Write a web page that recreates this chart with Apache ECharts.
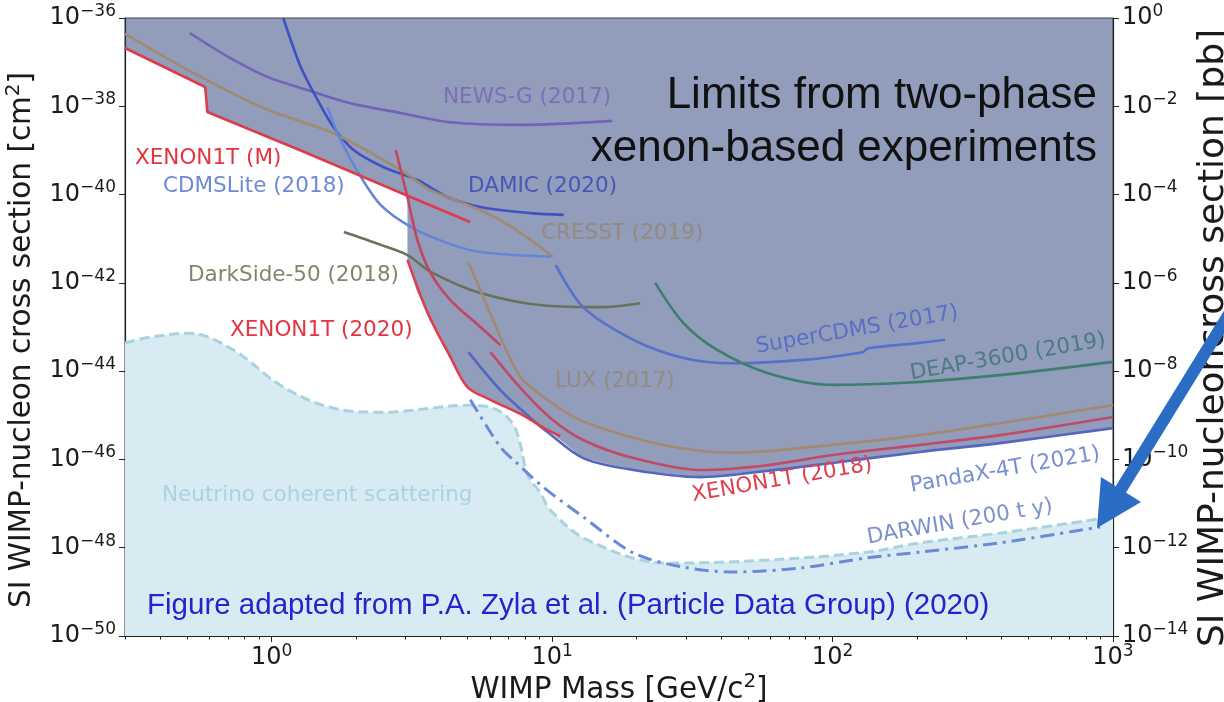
<!DOCTYPE html>
<html>
<head>
<meta charset="utf-8">
<script src="https://cdn.jsdelivr.net/npm/echarts@6/dist/echarts.min.js"></script>
<style>
  html, body { margin: 0; padding: 0; background: #fff; }
  #chart { width: 1224px; height: 702px; }
</style>
</head>
<body>
<div id="chart"></div>
<script>
// tick exponents
const massTickExp = [0, 1, 2, 3]
const cmTickExp = [-50, -48, -46, -44, -42, -40, -38, -36]
const pbTickExp = [-14, -12, -10, -8, -6, -4, -2, 0]
const minorTickMass = [0.3, 0.4, 0.5, 0.6, 0.7, 0.8, 0.9, 2, 3, 4, 5, 6, 7, 8, 9,
  20, 30, 40, 50, 60, 70, 80, 90, 200, 300, 400, 500, 600, 700, 800, 900]

// curves: [WIMP mass GeV, log10 cross section cm^2]
const xenon1tM = [[0.30, -36.68], [0.57, -37.54], [0.58, -37.58], [0.59, -38.13], [1.27, -39.0], [2.88, -39.96], [5.1, -40.62]]
const newsG = [[0.51, -36.34], [0.70, -36.88], [0.97, -37.34], [1.34, -37.63], [1.91, -37.93], [2.88, -38.15], [4.34, -38.36], [7.7, -38.42], [16.4, -38.33]]
const damic = [[1.10, -36.0], [1.27, -37.11], [1.46, -37.86], [1.66, -38.47], [1.96, -38.99], [2.51, -39.38], [3.31, -39.67], [4.24, -40.06], [5.55, -40.28], [8.37, -40.42], [11.0, -40.46]]
const cdmsLite = [[1.58, -38.02], [1.76, -38.76], [2.08, -39.60], [2.45, -40.24], [3.13, -40.73], [4.24, -41.10], [5.55, -41.30], [9.9, -41.41]]
const cresst = [[0.30, -36.36], [0.56, -37.34], [0.97, -38.08], [1.66, -38.61], [2.88, -39.44], [3.69, -39.90], [5.55, -40.35], [7.28, -40.76], [10.1, -41.41]]
const darkSide = [[1.81, -40.85], [2.45, -41.14], [3.05, -41.37], [3.69, -41.75], [5.55, -42.23], [9.6, -42.52], [14.9, -42.55], [20.6, -42.46]]
const superCdms = [[10.3, -41.60], [12.9, -42.55], [19.5, -43.29], [29.4, -43.70], [44.2, -43.82], [76.7, -43.75], [128, -43.57], [134, -43.48], [205, -43.36], [252, -43.29]]
const deap = [[23.3, -42.0], [29.4, -42.91], [38.8, -43.52], [58.5, -44.04], [100, -44.31], [174, -44.27], [395, -44.09], [1000, -43.79]]
const lux = [[5.03, -41.55], [5.55, -42.16], [6.38, -43.07], [7.71, -44.13], [9.62, -44.65], [12.6, -45.11], [19.0, -45.49], [28.6, -45.74], [44.2, -45.85], [100, -45.67], [205, -45.45], [395, -45.18], [1000, -44.77]]
const xenon1t2020 = [[3.05, -41.48], [3.60, -42.68], [4.34, -43.68], [4.99, -44.36], [6.03, -44.65], [7.71, -44.97], [9.62, -45.33], [10.7, -45.47]]
const xenon1tS2 = [[2.77, -38.99], [3.05, -40.06], [3.31, -41.03], [3.69, -41.78], [4.34, -42.39], [5.55, -43.0], [6.54, -43.41]]
const xenon1t2018 = [[6.03, -43.57], [7.71, -44.38], [9.86, -45.06], [12.9, -45.56], [19.5, -45.97], [33.7, -46.24], [58.5, -46.13], [100, -45.90], [205, -45.67], [395, -45.45], [1000, -45.04]]
const pandax4t = [[5.03, -43.57], [6.54, -44.43], [8.37, -45.06], [9.62, -45.38], [12.9, -45.97], [19.5, -46.24], [33.7, -46.40], [58.5, -46.26], [100, -46.08], [205, -45.83], [395, -45.63], [1000, -45.29]]
const darwin = [[5.11, -44.65], [6.54, -45.72], [7.28, -46.01], [9.31, -46.63], [12.9, -47.30], [19.5, -48.12], [29.4, -48.44], [44.2, -48.55], [76.7, -48.46], [133, -48.23], [205, -48.10], [395, -47.89], [900, -47.53]]
const neutrinoFloor = [[0.30, -43.36], [0.37, -43.23], [0.51, -43.14], [0.73, -43.52], [1.10, -44.36], [1.66, -44.84], [2.51, -44.93], [5.11, -44.77], [6.38, -44.88], [7.28, -45.22], [7.71, -45.67], [8.17, -46.35], [9.09, -46.76], [9.86, -47.15], [13.4, -47.83], [25.7, -48.35], [58.5, -48.28], [133, -48.10], [205, -47.89], [395, -47.67], [1000, -47.30]]
// lower edge of the excluded (shaded) region
const excludedEdge = [[0.30, -36.68], [0.57, -37.54], [0.58, -37.58], [0.59, -38.13], [1.27, -39.0], [2.88, -39.96], [3.05, -40.02], [3.05, -41.48], [3.3, -42.2], [3.6, -42.68], [4.0, -43.2], [4.34, -43.68], [4.99, -44.36], [6.03, -44.65], [7.71, -44.97], [9.62, -45.33], [12.9, -45.97], [19.5, -46.24], [33.7, -46.40], [58.5, -46.26], [100, -46.08], [205, -45.83], [395, -45.63], [1000, -45.29]]

const toXY = pts => pts.map(p => [Math.log10(p[0]), p[1]])
const supText = e => '{b|10}{s|' + (e < 0 ? '\u2212' + (-e) : e) + '}'
const tickRich = {
  b: { fontSize: 24, lineHeight: 30, fontFamily: 'DejaVu Sans', color: '#1a1a1a' },
  s: { fontSize: 17, lineHeight: 18, fontFamily: 'DejaVu Sans', color: '#1a1a1a', verticalAlign: 'top' },
}
const nameRich = {
  n: { fontSize: 29.5, lineHeight: 36, fontFamily: 'DejaVu Sans', fill: '#1a1a1a', color: '#1a1a1a' },
  s: { fontSize: 20, lineHeight: 21, fontFamily: 'DejaVu Sans', fill: '#1a1a1a', color: '#1a1a1a', verticalAlign: 'top' },
}
const xMin = Math.log10(0.3)

function curve(data, color, extra) {
  return Object.assign({
    type: 'line',
    data: toXY(data),
    symbol: 'none',
    smooth: 0.3,
    silent: true,
    z: 4,
    lineStyle: { color: color, width: 2.6 },
  }, extra || {})
}

const chart = echarts.init(document.getElementById('chart'))

const labels = [
  ['NEWS-G (2017)', 443, 97, '#7b6fb5', 0],
  ['XENON1T (M)', 135, 158, '#e3343f', 0],
  ['CDMSLite (2018)', 163, 186, '#6c8ad8', 0],
  ['DAMIC (2020)', 468, 186, '#4757b8', 0],
  ['CRESST (2019)', 541, 233, '#958a7c', 0],
  ['DarkSide-50 (2018)', 188, 275, '#80866c', 0],
  ['XENON1T (2020)', 230, 330, '#e3343f', 0],
  ['LUX (2017)', 555, 381, '#948a80', 0],
  ['Neutrino coherent scattering', 162, 495, '#a9d3e0', 0],
]
const rotLabels = [
  ['SuperCDMS (2017)', 857, 330, '#5b6fc4'],
  ['DEAP-3600 (2019)', 1008, 357, '#4e7a82'],
  ['PandaX-4T (2021)', 1005, 470, '#7a8fd0'],
  ['XENON1T (2018)', 782, 480, '#e0404e'],
  ['DARWIN (200 t y)', 960, 522, '#7c92cc'],
]

const graphics = []
labels.forEach(l => graphics.push({
  type: 'text', x: l[1], y: l[2], z: 50,
  style: { text: l[0], fill: l[3], font: '21.5px "DejaVu Sans"', align: 'left', verticalAlign: 'middle' },
}))
rotLabels.forEach(l => graphics.push({
  type: 'text', x: l[1], y: l[2], z: 50, rotation: 0.17,
  style: { text: l[0], fill: l[3], font: '21.5px "DejaVu Sans"', align: 'center', verticalAlign: 'middle' },
}))
graphics.push(
  { type: 'text', x: 1097, y: 96, z: 50, style: { text: 'Limits from two-phase', fill: '#111', font: '44px "Liberation Sans"', align: 'right', verticalAlign: 'middle' } },
  { type: 'text', x: 1097, y: 149, z: 50, style: { text: 'xenon-based experiments', fill: '#111', font: '44px "Liberation Sans"', align: 'right', verticalAlign: 'middle' } },
  { type: 'text', x: 147, y: 606, z: 50, style: { text: 'Figure adapted from P.A. Zyla et al. (Particle Data Group) (2020)', fill: '#2424cc', font: '29.5px "Liberation Sans"', align: 'left', verticalAlign: 'middle' } },
  // y axis titles
  { type: 'text', x: 22, y: 340, z: 50, rotation: Math.PI / 2,
    style: { text: '{n|SI WIMP-nucleon cross section [cm}{s|2}{n|]}', rich: nameRich, align: 'center', verticalAlign: 'middle' } },
  { type: 'text', x: 1214, y: 338, z: 50, rotation: Math.PI / 2,
    style: { text: 'SI WIMP-nucleoncross section [pb]', fill: '#1a1a1a', font: '36px "DejaVu Sans"', align: 'center', verticalAlign: 'middle' } },
  // arrow pointing at DARWIN
  { type: 'polyline', z: 60, shape: { points: [[1234, 306], [1118, 494]] }, style: { stroke: '#2b6cc4', lineWidth: 12 } },
  { type: 'polygon', z: 60, shape: { points: [[1097, 528], [1101, 477], [1141, 502]] }, style: { fill: '#2b6cc4' } }
)

chart.setOption({
  animation: false,
  backgroundColor: '#fff',
  grid: {
    left: 125, right: 111, top: 18, bottom: 66,
    containLabel: false, outerBoundsMode: 'none',
    show: true, borderColor: '#444', borderWidth: 1, backgroundColor: '#fff',
  },
  xAxis: [
    {
      type: 'value', min: xMin, max: 3, position: 'bottom',
      axisLine: { onZero: false, lineStyle: { color: '#222', width: 1.2 } },
      axisTick: { customValues: massTickExp, length: 6, lineStyle: { color: '#222' } },
      axisLabel: { customValues: massTickExp, formatter: supText, margin: 7, rich: tickRich },
      splitLine: { show: false },
      name: '{n|WIMP Mass [GeV/c}{s|2}{n|]}', nameLocation: 'middle', nameGap: 36, nameMoveOverlap: false,
      nameTextStyle: { rich: nameRich },
    },
    {
      type: 'value', min: xMin, max: 3, position: 'bottom',
      axisLine: { show: false, onZero: false },
      axisTick: { customValues: minorTickMass.map(Math.log10), length: 3.5, lineStyle: { color: '#222' } },
      axisLabel: { show: false },
      splitLine: { show: false },
    },
  ],
  yAxis: [
    {
      type: 'value', min: -50, max: -36, interval: 2, position: 'left',
      axisLine: { show: true, onZero: false, lineStyle: { color: '#222', width: 1.2 } },
      axisTick: { length: 6, lineStyle: { color: '#222' } },
      axisLabel: { customValues: cmTickExp, formatter: supText, margin: 9, rich: tickRich },
      splitLine: { show: false },
    },
    {
      type: 'value', min: -14, max: 0, interval: 2, position: 'right',
      axisLine: { show: true, onZero: false, lineStyle: { color: '#222', width: 1.2 } },
      axisTick: { length: 6, lineStyle: { color: '#222' } },
      axisLabel: { customValues: pbTickExp, formatter: supText, margin: 9, rich: tickRich },
      splitLine: { show: false },
    },
  ],
  graphic: graphics,
  series: [
    {
      type: 'line', data: toXY(neutrinoFloor), symbol: 'none', smooth: 0.35, silent: true, z: 1,
      lineStyle: { color: '#a8d3e0', width: 3, type: [10, 5] },
      areaStyle: { color: '#d8ebf3', origin: 'start', opacity: 1 },
    },
    {
      type: 'line', data: toXY(excludedEdge), symbol: 'none', smooth: false, silent: true, z: 2,
      lineStyle: { width: 0, opacity: 0 },
      areaStyle: { color: 'rgba(35, 60, 120, 0.5)', origin: 'end', opacity: 1 },
    },
    curve(newsG, '#7263b8'),
    curve(damic, '#3f51c4'),
    curve(cresst, '#a08a72'),
    curve(cdmsLite, '#6485d8'),
    curve(darkSide, '#69735a'),
    curve(superCdms, '#5670cc'),
    curve(deap, '#3d7f6c'),
    curve(lux, '#a48872'),
    curve(xenon1tS2, '#c4455e'),
    curve(xenon1t2018, '#c04a68'),
    curve(pandax4t, '#5566c2'),
    curve(xenon1t2020, '#e03c4a'),
    curve(xenon1tM, '#dd3c4b', { smooth: false }),
    curve(darwin, '#6a8ad8', { z: 5, lineStyle: { color: '#6a8ad8', width: 3, type: [14, 6, 3, 6] } }),
  ],
})
</script>
</body>
</html>
